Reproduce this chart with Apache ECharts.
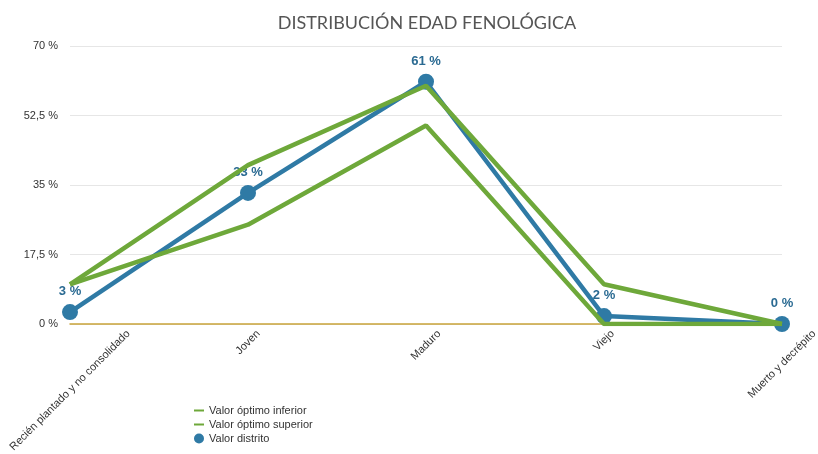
<!DOCTYPE html>
<html lang="es">
<head>
    <meta charset="UTF-8">
    <title>Distribución edad fenológica</title>
    <script src="https://cdn.jsdelivr.net/npm/echarts@6.0.0/dist/echarts.min.js"></script>
    <style>
        * { margin: 0; padding: 0; }
        body { background: #fff; }
        #chart { width: 818px; height: 454px; }
    </style>
</head>
<body>
    <div id="chart"></div>
    <script>
        // datos
        const categories = ['Recién plantado y no consolidado', 'Joven', 'Maduro', 'Viejo', 'Muerto y decrépito'];
        const inferior = [10, 25, 50, 0, 0];
        const superior = [10, 40, 60, 10, 0];
        const distrito = [3, 33, 61, 2, 0];
        const yTicks = [0, 17.5, 35, 52.5, 70];

        const green = '#6ea83a';
        const blue = '#2f7aa5';
        const font = '"Liberation Sans", Arial, sans-serif';

        const chart = echarts.init(document.getElementById('chart'));

        const option = {
            animation: false,
            title: {
                text: 'DISTRIBUCIÓN EDAD FENOLÓGICA',
                left: 422,
                textAlign: 'center',
                top: 9,
                textStyle: { fontFamily: 'Lato, sans-serif', fontWeight: 'normal', fontSize: 18, color: '#555' }
            },
            legend: {
                orient: 'vertical',
                left: 189,
                top: 400,
                itemGap: 3,
                itemWidth: 10,
                itemHeight: 10,
                textStyle: { fontFamily: font, fontSize: 11, color: '#333' },
                data: [
                    { name: 'Valor óptimo inferior', icon: 'path://M0,4 H10 V6 H0 Z', itemStyle: { color: green } },
                    { name: 'Valor óptimo superior', icon: 'path://M0,4 H10 V6 H0 Z', itemStyle: { color: green } },
                    { name: 'Valor distrito', icon: 'circle', itemStyle: { color: blue } }
                ]
            },
            grid: { left: 70, right: 36, top: 46, bottom: 130, containLabel: false, outerBoundsMode: 'none' },
            xAxis: {
                type: 'category',
                data: categories,
                boundaryGap: false,
                axisLine: { show: true, lineStyle: { color: '#c9a43a', width: 1.5 } },
                axisTick: { show: false },
                axisLabel: { show: false }
            },
            yAxis: {
                type: 'value',
                min: 0,
                max: 70,
                interval: 17.5,
                axisLine: { show: false },
                axisTick: { show: false },
                splitLine: { lineStyle: { color: '#e6e6e6' } },
                axisLabel: {
                    margin: 12,
                    fontFamily: font,
                    fontSize: 11,
                    color: '#333',
                    formatter: v => yTicks.includes(v) ? String(v).replace('.', ',') + ' %' : ''
                }
            },
            series: [
                {
                    name: 'Valor distrito',
                    type: 'line',
                    data: distrito,
                    z: 2,
                    symbol: 'circle',
                    symbolSize: 16,
                    itemStyle: { color: blue },
                    lineStyle: { color: blue, width: 4.5 },
                    label: {
                        show: true,
                        position: 'top',
                        distance: 6,
                        formatter: '{c} %',
                        fontFamily: font,
                        fontWeight: 'bold',
                        fontSize: 13,
                        color: '#2a6a92'
                    }
                },
                {
                    name: 'Valor óptimo inferior',
                    type: 'line',
                    data: inferior,
                    z: 3,
                    symbol: 'none',
                    itemStyle: { color: green },
                    lineStyle: { color: green, width: 4.5 }
                },
                {
                    name: 'Valor óptimo superior',
                    type: 'line',
                    data: superior,
                    z: 3,
                    symbol: 'none',
                    itemStyle: { color: green },
                    lineStyle: { color: green, width: 4.5 }
                }
            ]
        };

        chart.setOption(option);

        // etiquetas del eje X giradas 45° y centradas en cada categoría
        const ctx = document.createElement('canvas').getContext('2d');
        ctx.font = '11px ' + font;
        const y0 = chart.convertToPixel({ yAxisIndex: 0 }, 0);
        const labels = categories.map((c, i) => {
            const x = chart.convertToPixel({ xAxisIndex: 0 }, i);
            const half = ctx.measureText(c).width * Math.SQRT1_2 / 2;
            return {
                type: 'text',
                x: x,
                y: y0 + 8 + half,
                rotation: Math.PI / 4,
                style: {
                    text: c,
                    align: 'center',
                    verticalAlign: 'middle',
                    font: '11px ' + font,
                    fill: '#333'
                }
            };
        });
        chart.setOption({ graphic: labels });
    </script>
</body>
</html>
